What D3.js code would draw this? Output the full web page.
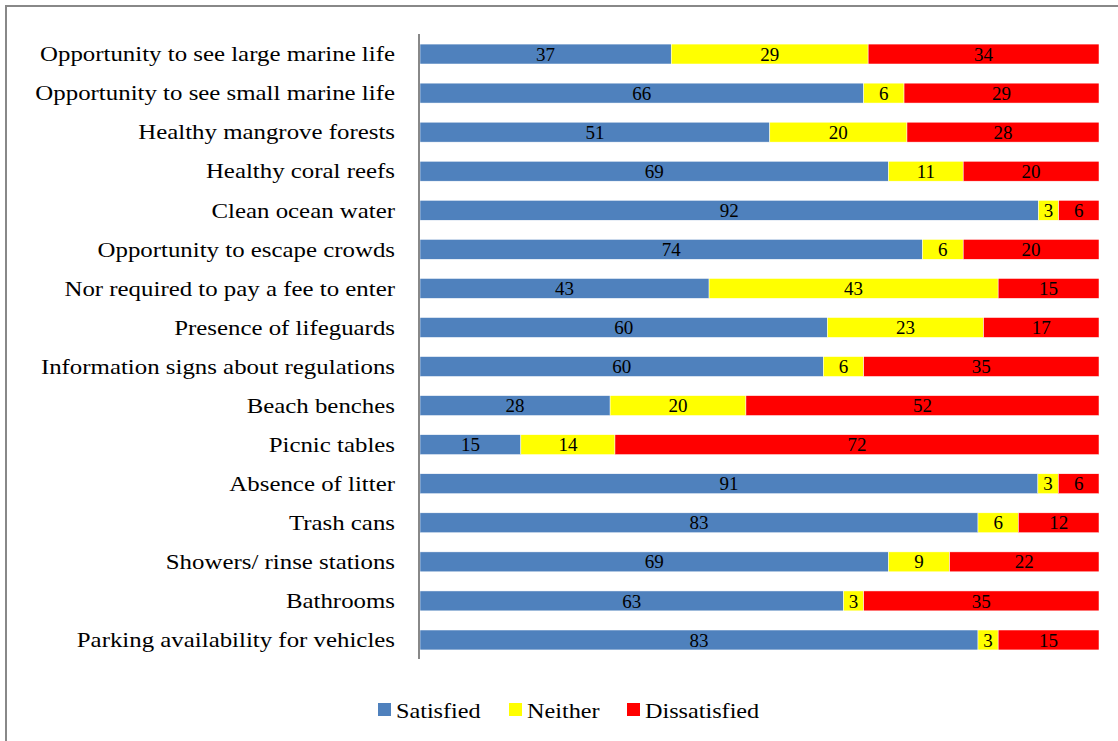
<!DOCTYPE html>
<html>
<head>
<meta charset="utf-8">
<script src="https://cdn.jsdelivr.net/npm/d3@7"></script>
<style>
  body { margin: 0; background: #fff; }
  svg { display: block; }
  svg text { font-family: "Liberation Serif", "Times New Roman", serif; fill: #000; }
</style>
</head>
<body>
<svg id="chart" width="1118" height="741"></svg>
<script>
const categories = [
  'Opportunity to see large marine life',
  'Opportunity to see small marine life',
  'Healthy mangrove forests',
  'Healthy coral reefs',
  'Clean ocean water',
  'Opportunity to escape crowds',
  'Nor required to pay a fee to enter',
  'Presence of lifeguards',
  'Information signs about regulations',
  'Beach benches',
  'Picnic tables',
  'Absence of litter',
  'Trash cans',
  'Showers/ rinse stations',
  'Bathrooms',
  'Parking availability for vehicles'
]
const satisfied    = [37, 66, 51, 69, 92, 74, 43, 60, 60, 28, 15, 91, 83, 69, 63, 83]
const neither      = [29,  6, 20, 11,  3,  6, 43, 23,  6, 20, 14,  3,  6,  9,  3,  3]
const dissatisfied = [34, 29, 28, 20,  6, 20, 15, 17, 35, 52, 72,  6, 12, 22, 35, 15]

const series_names = ['Satisfied', 'Neither', 'Dissatisfied']
const colors = ['#4F81BD', '#FFFF00', '#FF0000']

// the reference text is a little stretched sideways
const stretch = 1.13

const svg = d3.select('#chart')

// outer frame (runs off the right and bottom edge)
svg.append('rect')
  .attr('x', 6).attr('y', 6)
  .attr('width', 1130).attr('height', 760)
  .attr('fill', 'none')
  .attr('stroke', '#888')
  .attr('stroke-width', 2)

const rows = categories.map((c, i)=> ({
  name: c,
  Satisfied: satisfied[i],
  Neither: neither[i],
  Dissatisfied: dissatisfied[i]
}))

// 100% stacked
const stack = d3.stack().keys(series_names).offset(d3.stackOffsetExpand)
const layers = stack(rows)

const x = d3.scaleLinear().domain([0, 1]).range([420, 1099])
const y = d3.scaleBand().domain(categories).range([34.5, 659.5]).paddingInner(0.49).paddingOuter(0.245)

const layer = svg.selectAll('.layer')
  .data(layers)
  .enter()
  .append('g')
  .attr('class', 'layer')
  .attr('fill', (d, i)=> colors[i])

layer.selectAll('rect')
  .data((d)=> d)
  .enter()
  .append('rect')
  .attr('x', (d)=> x(d[0]))
  .attr('y', (d)=> y(d.data.name))
  .attr('width', (d)=> x(d[1]) - x(d[0]))
  .attr('height', y.bandwidth())
  .attr('stroke', '#fff')
  .attr('stroke-width', 0.5)

layer.selectAll('text')
  .data((d)=> d.map((p)=> ({ p: p, key: d.key })))
  .enter()
  .append('text')
  .attr('x', (d)=> (x(d.p[0]) + x(d.p[1])) / 2)
  .attr('y', (d)=> y(d.p.data.name) + y.bandwidth() / 2)
  .attr('dy', '0.35em')
  .attr('text-anchor', 'middle')
  .attr('font-size', 19)
  .text((d)=> d.p.data[d.key])

// category axis line
svg.append('line')
  .attr('x1', 419).attr('x2', 419)
  .attr('y1', 34).attr('y2', 659)
  .attr('stroke', '#888')
  .attr('stroke-width', 2)

// category labels
svg.selectAll('.cat-label')
  .data(categories)
  .enter()
  .append('g')
  .attr('class', 'cat-label')
  .attr('transform', (d)=> `translate(395,${y(d) + y.bandwidth() / 2}) scale(${stretch},1)`)
  .append('text')
  .attr('text-anchor', 'end')
  .attr('dy', '0.33em')
  .attr('font-size', 22)
  .text((d)=> d)

// legend
const legend_x = [378, 509, 627]
const legend = svg.selectAll('.legend')
  .data(series_names)
  .enter()
  .append('g')
  .attr('class', 'legend')
  .attr('transform', (d, i)=> `translate(${legend_x[i]},703)`)

legend.append('rect')
  .attr('width', 13).attr('height', 13)
  .attr('fill', (d, i)=> colors[i])

legend.append('text')
  .attr('transform', `translate(18,15) scale(${stretch - 0.03},1)`)
  .attr('font-size', 22)
  .text((d)=> d)
</script>
</body>
</html>
